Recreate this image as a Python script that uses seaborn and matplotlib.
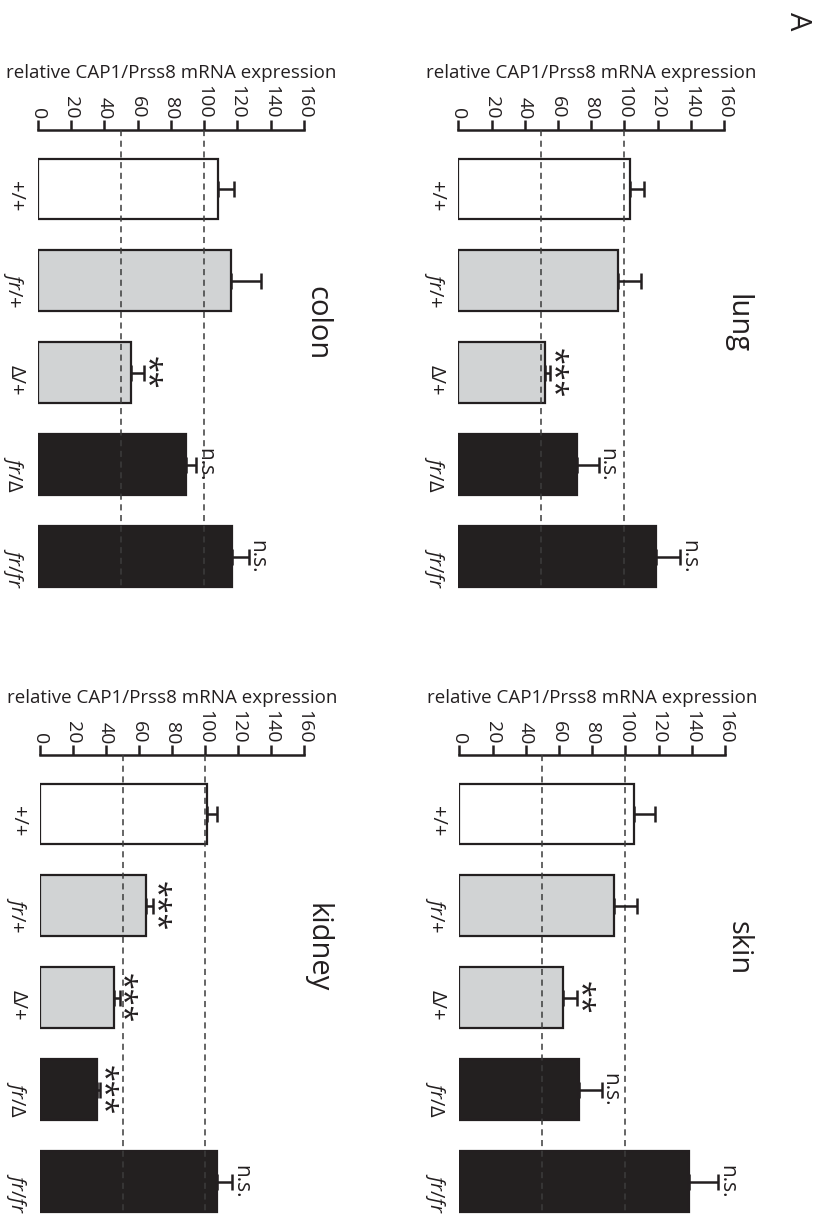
import numpy as np
import pandas as pd
import matplotlib
matplotlib.use("Agg")
import matplotlib.pyplot as plt
import seaborn as sns

# ---- data ----
GENOTYPES = ["+/+", r"$\mathit{fr/}$+", "Δ/+", r"$\mathit{fr/}$Δ", r"$\mathit{fr/fr}$"]
BAR_COLORS = ["#ffffff", "#d1d3d4", "#d1d3d4", "#231f20", "#231f20"]

lung_mean = [103.4, 96.2, 52.0, 71.7, 119.0]
lung_err = [8.6, 14.1, 3.0, 13.0, 14.6]
lung_sig = ["", "", "***", "n.s.", "n.s."]

skin_mean = [105.2, 93.0, 62.7, 71.8, 138.6]
skin_err = [12.8, 13.9, 8.0, 14.0, 17.4]
skin_sig = ["", "", "**", "n.s.", "n.s."]

colon_mean = [108.2, 116.3, 56.0, 88.9, 116.9]
colon_err = [9.6, 18.0, 8.0, 6.3, 10.0]
colon_sig = ["", "", "**", "n.s.", "n.s."]

kidney_mean = [101.5, 64.3, 44.8, 34.8, 107.5]
kidney_err = [6.0, 4.1, 3.4, 1.8, 9.1]
kidney_sig = ["", "***", "***", "***", "n.s."]

YLABEL = "relative CAP1/Prss8 mRNA expression"
INK = "#231f20"

sns.set_theme(style="white")
plt.rcParams["font.family"] = ["Open Sans", "DejaVu Sans"]
plt.rcParams["mathtext.fontset"] = "custom"
plt.rcParams["mathtext.rm"] = "Open Sans"
plt.rcParams["mathtext.it"] = "Open Sans:italic"

W, H = 818, 1219
fig = plt.figure(figsize=(W / 100, H / 100), dpi=100)


def px_rect(x0, x1, top, bottom):
    return [x0 / W, 1 - bottom / H, (x1 - x0) / W, (bottom - top) / H]


# figure is rotated 90 deg clockwise: value axis runs left->right on top
panels = [
    ("lung", lung_mean, lung_err, lung_sig, px_rect(458.3, 724, 130, 589)),
    ("skin", skin_mean, skin_err, skin_sig, px_rect(459.3, 725, 755, 1214)),
    ("colon", colon_mean, colon_err, colon_sig, px_rect(37.7, 304, 130, 589)),
    ("kidney", kidney_mean, kidney_err, kidney_sig, px_rect(40, 304, 755, 1214)),
]

for name, means, errs, sig, rect in panels:
    ax = fig.add_axes(rect)
    df = pd.DataFrame({"genotype": GENOTYPES, "value": means})
    sns.barplot(data=df, x="value", y="genotype", hue="genotype",
                palette=dict(zip(GENOTYPES, BAR_COLORS)), orient="h",
                width=0.66, edgecolor=INK, linewidth=1.6, errorbar=None,
                legend=False, ax=ax)
    ypos = np.arange(len(GENOTYPES))
    ax.errorbar(means, ypos, xerr=[np.zeros(len(means)), errs], fmt="none",
                ecolor=INK, elinewidth=1.8, capsize=6, capthick=1.8, zorder=4)

    ax.set_xlim(0, 160)
    ax.set_ylim(4.35, -0.64)
    ax.vlines([50, 100], -0.64, 4.33, colors="#3c3c3c", linestyles=(0, (4, 3)),
              linewidth=1.1, zorder=3)

    for s in ["left", "right", "bottom"]:
        ax.spines[s].set_visible(False)
    ax.spines["top"].set_linewidth(1.8)
    ax.spines["top"].set_color(INK)
    ax.spines["top"].set_bounds(0, 160)

    ax.xaxis.tick_top()
    ax.xaxis.set_label_position("top")
    ax.set_xticks(np.arange(0, 161, 20))
    ax.tick_params(axis="x", top=True, bottom=False, length=7, width=1.8,
                   color=INK, pad=1, labelsize=14, labelrotation=-90, labelcolor=INK)
    ax.tick_params(axis="y", left=False, length=0, pad=9, labelsize=14.5,
                   labelrotation=-90, labelcolor=INK)
    ax.set_xlabel(YLABEL, fontsize=13.5, labelpad=5, color=INK)
    ax.set_ylabel("")

    for i, (m, e, s) in enumerate(zip(means, errs, sig)):
        if not s:
            continue
        if s == "n.s.":
            fs, dx = 15, 2
        else:
            fs, dx = 22, -4
        ax.annotate(s, xy=(m + e, i), xytext=(dx, 0), textcoords="offset points",
                    rotation=-90, rotation_mode="anchor", ha="center",
                    va="baseline", fontsize=fs, color=INK, annotation_clip=False)

    ax.text(168, 1.46, name, rotation=-90, ha="center", va="center",
            fontsize=21, color=INK, clip_on=False)

fig.text(797 / W, 1 - 21 / H, "A", rotation=-90, ha="center", va="center",
         fontsize=21, color=INK)

fig.savefig("out.png", dpi=100)
